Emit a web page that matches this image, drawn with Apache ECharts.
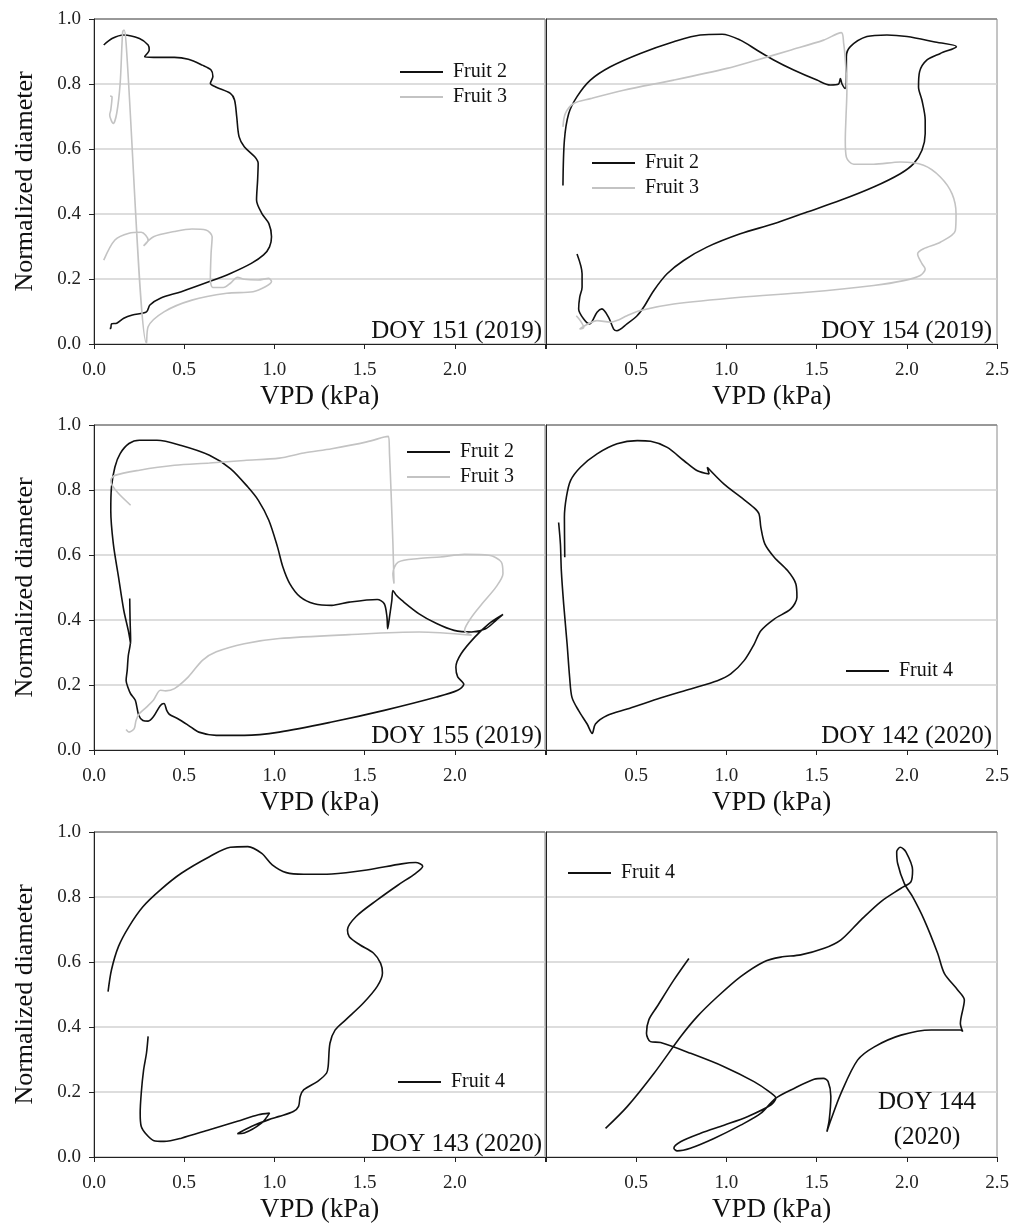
<!DOCTYPE html>
<html>
<head>
<meta charset="utf-8">
<script src="https://cdn.jsdelivr.net/npm/echarts@6.0.0/dist/echarts.min.js"></script>
<style>
  html, body { margin: 0; padding: 0; background: #fff; }
  #chart { width: 1014px; height: 1227px; }
</style>
</head>
<body>
<div id="chart"></div>
<script>
// [VPD (kPa), normalized diameter]
const doy151Fruit2 = [[0.054,0.92],[0.10,0.94],[0.165,0.951],[0.252,0.94],[0.30,0.92],[0.306,0.905],[0.281,0.884],[0.33,0.882],[0.446,0.882],[0.523,0.876],[0.60,0.858],[0.649,0.843],[0.659,0.823],[0.645,0.802],[0.678,0.79],[0.756,0.771],[0.779,0.751],[0.791,0.70],[0.804,0.638],[0.833,0.607],[0.891,0.576],[0.91,0.556],[0.907,0.505],[0.901,0.443],[0.93,0.402],[0.969,0.371],[0.984,0.330],[0.973,0.299],[0.940,0.274],[0.872,0.248],[0.756,0.217],[0.640,0.192],[0.484,0.161],[0.368,0.141],[0.310,0.12],[0.291,0.099],[0.213,0.089],[0.165,0.079],[0.126,0.064],[0.097,0.062],[0.093,0.048],[0.087,0.048]];
const doy151Fruit3 = [[0.054,0.258],[0.116,0.32],[0.194,0.341],[0.262,0.344],[0.30,0.32],[0.275,0.302],[0.33,0.33],[0.446,0.346],[0.543,0.354],[0.62,0.351],[0.655,0.33],[0.649,0.279],[0.645,0.197],[0.659,0.174],[0.717,0.174],[0.756,0.187],[0.795,0.205],[0.833,0.199],[0.91,0.197],[0.969,0.202],[0.984,0.192],[0.95,0.176],[0.882,0.161],[0.736,0.156],[0.543,0.135],[0.388,0.099],[0.30,0.053],[0.291,0.002],[0.178,0.925],[0.167,0.966],[0.159,0.961],[0.145,0.802],[0.126,0.71],[0.107,0.679],[0.087,0.705],[0.093,0.72],[0.10,0.761],[0.089,0.763]];

const doy154Fruit2 = [[0.094,0.488],[0.102,0.627],[0.126,0.709],[0.172,0.761],[0.246,0.812],[0.357,0.853],[0.523,0.894],[0.708,0.930],[0.855,0.951],[0.976,0.953],[1.077,0.935],[1.17,0.904],[1.262,0.874],[1.373,0.843],[1.502,0.812],[1.576,0.797],[1.622,0.80],[1.632,0.817],[1.641,0.80],[1.659,0.786],[1.665,0.822],[1.665,0.884],[1.687,0.915],[1.779,0.946],[1.89,0.951],[2.001,0.946],[2.149,0.930],[2.275,0.915],[2.186,0.894],[2.112,0.874],[2.071,0.838],[2.065,0.791],[2.084,0.750],[2.102,0.689],[2.102,0.647],[2.084,0.596],[2.038,0.555],[1.964,0.524],[1.816,0.483],[1.632,0.442],[1.447,0.406],[1.262,0.370],[1.077,0.339],[0.892,0.298],[0.763,0.257],[0.671,0.216],[0.597,0.164],[0.541,0.113],[0.505,0.087],[0.449,0.062],[0.393,0.041],[0.375,0.046],[0.347,0.082],[0.31,0.108],[0.283,0.098],[0.242,0.062],[0.209,0.077],[0.181,0.108],[0.187,0.144],[0.2,0.175],[0.2,0.216],[0.172,0.277]];
const doy154Fruit3 = [[0.094,0.668],[0.107,0.709],[0.153,0.740],[0.246,0.755],[0.43,0.781],[0.708,0.812],[1.003,0.848],[1.17,0.874],[1.354,0.904],[1.539,0.935],[1.637,0.958],[1.65,0.925],[1.659,0.874],[1.668,0.781],[1.663,0.699],[1.659,0.627],[1.665,0.575],[1.706,0.553],[1.816,0.553],[1.964,0.560],[2.093,0.550],[2.186,0.514],[2.251,0.462],[2.273,0.401],[2.269,0.349],[2.186,0.313],[2.093,0.293],[2.06,0.277],[2.084,0.247],[2.102,0.231],[2.075,0.211],[1.983,0.195],[1.816,0.180],[1.447,0.159],[1.077,0.144],[0.708,0.123],[0.523,0.103],[0.449,0.087],[0.393,0.072],[0.357,0.067],[0.283,0.072],[0.227,0.060],[0.186,0.046],[0.209,0.051],[0.19,0.072],[0.168,0.087]];

const doy155Fruit2 = [[0.198,0.466],[0.200,0.40],[0.203,0.337],[0.19,0.29],[0.184,0.245],[0.178,0.214],[0.19,0.19],[0.203,0.173],[0.229,0.153],[0.248,0.107],[0.271,0.091],[0.30,0.089],[0.329,0.102],[0.368,0.137],[0.388,0.143],[0.403,0.122],[0.417,0.11],[0.465,0.096],[0.523,0.076],[0.581,0.055],[0.678,0.045],[0.833,0.045],[1.027,0.055],[1.318,0.086],[1.609,0.122],[1.899,0.163],[2.016,0.184],[2.05,0.202],[2.016,0.225],[2.006,0.255],[2.035,0.296],[2.112,0.348],[2.19,0.389],[2.267,0.417],[2.229,0.399],[2.171,0.373],[2.093,0.363],[1.996,0.368],[1.899,0.389],[1.802,0.419],[1.705,0.461],[1.676,0.476],[1.657,0.491],[1.651,0.46],[1.638,0.409],[1.628,0.373],[1.624,0.409],[1.609,0.45],[1.57,0.463],[1.415,0.455],[1.318,0.445],[1.221,0.45],[1.143,0.471],[1.085,0.512],[1.047,0.563],[1.017,0.625],[0.969,0.707],[0.911,0.768],[0.853,0.809],[0.756,0.866],[0.64,0.907],[0.484,0.937],[0.349,0.953],[0.252,0.953],[0.194,0.943],[0.145,0.912],[0.116,0.871],[0.097,0.809],[0.093,0.737],[0.107,0.635],[0.136,0.532],[0.165,0.43],[0.19,0.368],[0.203,0.327]];
const doy155Fruit3 = [[0.203,0.753],[0.136,0.789],[0.101,0.814],[0.093,0.830],[0.116,0.845],[0.252,0.861],[0.446,0.876],[0.64,0.883],[0.833,0.891],[1.027,0.898],[1.163,0.914],[1.318,0.927],[1.512,0.948],[1.609,0.963],[1.632,0.965],[1.638,0.912],[1.647,0.789],[1.657,0.635],[1.663,0.512],[1.657,0.543],[1.686,0.578],[1.802,0.589],[1.919,0.594],[2.054,0.602],[2.19,0.599],[2.258,0.578],[2.267,0.543],[2.229,0.502],[2.151,0.45],[2.093,0.409],[2.054,0.368],[2.093,0.353],[1.802,0.363],[1.415,0.355],[1.027,0.343],[0.833,0.327],[0.678,0.302],[0.601,0.276],[0.523,0.225],[0.446,0.189],[0.397,0.182],[0.368,0.184],[0.329,0.153],[0.291,0.132],[0.252,0.112],[0.233,0.091],[0.223,0.066],[0.194,0.055],[0.178,0.063]];

const doy142Fruit4 = [[0.070,0.70],[0.080,0.633],[0.085,0.552],[0.098,0.449],[0.117,0.326],[0.131,0.224],[0.144,0.162],[0.181,0.121],[0.228,0.08],[0.256,0.051],[0.274,0.08],[0.339,0.106],[0.45,0.126],[0.617,0.157],[0.802,0.188],[0.95,0.213],[1.024,0.234],[1.098,0.275],[1.154,0.326],[1.191,0.367],[1.265,0.403],[1.357,0.434],[1.391,0.47],[1.385,0.511],[1.339,0.552],[1.265,0.593],[1.213,0.634],[1.191,0.685],[1.181,0.726],[1.154,0.745],[1.080,0.778],[0.987,0.818],[0.894,0.87],[0.904,0.849],[0.839,0.859],[0.765,0.89],[0.672,0.931],[0.58,0.95],[0.506,0.952],[0.394,0.942],[0.283,0.911],[0.191,0.87],[0.136,0.829],[0.113,0.778],[0.102,0.716],[0.104,0.593]];

const doy143Fruit4 = [[0.078,0.509],[0.097,0.576],[0.136,0.648],[0.194,0.709],[0.271,0.770],[0.368,0.822],[0.484,0.873],[0.64,0.924],[0.756,0.953],[0.853,0.955],[0.93,0.934],[0.988,0.899],[1.066,0.875],[1.163,0.870],[1.318,0.871],[1.512,0.883],[1.705,0.902],[1.783,0.906],[1.822,0.895],[1.783,0.873],[1.686,0.837],[1.57,0.791],[1.453,0.740],[1.405,0.699],[1.415,0.678],[1.473,0.653],[1.55,0.627],[1.589,0.596],[1.599,0.566],[1.57,0.525],[1.492,0.473],[1.395,0.422],[1.337,0.391],[1.308,0.35],[1.298,0.279],[1.289,0.258],[1.24,0.233],[1.163,0.207],[1.143,0.186],[1.134,0.156],[1.105,0.14],[1.027,0.125],[0.969,0.115],[0.872,0.094],[0.795,0.072],[0.833,0.074],[0.93,0.105],[0.973,0.135],[0.911,0.13],[0.795,0.11],[0.64,0.084],[0.484,0.058],[0.388,0.048],[0.329,0.051],[0.291,0.069],[0.262,0.094],[0.256,0.135],[0.262,0.197],[0.275,0.268],[0.291,0.32],[0.3,0.371]];

const doy144Fruit4 = [[0.792,0.611],[0.709,0.545],[0.616,0.463],[0.570,0.422],[0.557,0.381],[0.579,0.355],[0.635,0.352],[0.802,0.319],[0.987,0.278],[1.153,0.232],[1.237,0.201],[1.274,0.181],[1.246,0.160],[1.116,0.124],[0.987,0.098],[0.857,0.073],[0.746,0.047],[0.709,0.027],[0.727,0.019],[0.8,0.027],[0.931,0.057],[1.079,0.098],[1.19,0.134],[1.274,0.181],[1.375,0.211],[1.486,0.239],[1.538,0.242],[1.564,0.232],[1.579,0.186],[1.570,0.114],[1.557,0.078],[1.579,0.114],[1.635,0.196],[1.727,0.298],[1.82,0.339],[1.968,0.375],[2.135,0.391],[2.297,0.391],[2.31,0.386],[2.297,0.411],[2.319,0.483],[2.282,0.514],[2.208,0.565],[2.171,0.627],[2.097,0.729],[2.032,0.801],[1.986,0.842],[1.949,0.904],[1.944,0.939],[1.964,0.953],[1.995,0.939],[2.032,0.883],[2.023,0.847],[1.968,0.827],[1.857,0.786],[1.745,0.729],[1.635,0.668],[1.542,0.642],[1.412,0.622],[1.301,0.615],[1.209,0.601],[1.079,0.555],[0.95,0.493],[0.838,0.432],[0.746,0.370],[0.598,0.257],[0.45,0.155],[0.33,0.088]];

const doyLabels = ['DOY 151 (2019)', 'DOY 154 (2019)', 'DOY 155 (2019)', 'DOY 142 (2020)', 'DOY 143 (2020)', 'DOY 144\n(2020)'];
const xTickLabels = ['0.0', '0.5', '1.0', '1.5', '2.0', '2.5'];
const yTickLabels = ['0.0', '0.2', '0.4', '0.6', '0.8', '1.0'];

let serif = '"Liberation Serif", "DejaVu Serif", serif';
let black = '#111111';
let grey = '#c3c3c3';

let panels = [
  { lines: [['Fruit 2', doy151Fruit2, black], ['Fruit 3', doy151Fruit3, grey]], legend: [400, 62], title: { right: 472, top: 314 } },
  { lines: [['Fruit 2', doy154Fruit2, black], ['Fruit 3', doy154Fruit3, grey]], legend: [592, 153], title: { right: 22, top: 314 } },
  { lines: [['Fruit 2', doy155Fruit2, black], ['Fruit 3', doy155Fruit3, grey]], legend: [407, 442], title: { right: 472, top: 719 } },
  { lines: [['Fruit 4', doy142Fruit4, black]], legend: [846, 661], title: { right: 22, top: 719 } },
  { lines: [['Fruit 4', doy143Fruit4, black]], legend: [398, 1072], title: { right: 472, top: 1127 } },
  { lines: [['Fruit 4', doy144Fruit4, black]], legend: [568, 863], title: { left: 927, top: 1085, textAlign: 'center' } }
];
let colLeft = [94, 546];
let rowTop = [19, 425, 832];

let grids = [], xAxes = [], yAxes = [], series = [], legends = [], titles = [];
panels.forEach((p, i) => {
  let col = i % 2, row = Math.floor(i / 2);
  grids.push({ left: colLeft[col], top: rowTop[row], width: 451, height: 325, show: true,
    borderColor: '#8a8a8a', borderWidth: 1, backgroundColor: 'transparent' });
  xAxes.push({
    type: 'value', gridIndex: i, min: 0, max: 2.5, interval: 0.5,
    name: 'VPD (kPa)', nameLocation: 'middle', nameGap: 39,
    nameTextStyle: { fontFamily: serif, fontSize: 27, color: '#111' },
    axisLine: { show: true, lineStyle: { color: '#222', width: 1 } },
    axisTick: { show: true, length: 5, lineStyle: { color: '#222' } },
    axisLabel: { fontFamily: serif, fontSize: 19, color: '#222', margin: 17,
      formatter: v => {
        let k = Math.round(v / 0.5);
        if (col === 0 && k === 5) return '';
        if (col === 1 && k === 0) return '';
        return xTickLabels[k];
      } },
    splitLine: { show: false }
  });
  yAxes.push({
    type: 'value', gridIndex: i, min: 0, max: 1, interval: 0.2,
    name: col === 0 ? 'Normalized diameter' : '', nameLocation: 'middle', nameGap: 56,
    nameTextStyle: { fontFamily: serif, fontSize: 26, color: '#111' },
    axisLine: { show: true, lineStyle: { color: '#222', width: 1 } },
    axisTick: { show: col === 0, length: 5, lineStyle: { color: '#222' } },
    axisLabel: { show: col === 0, fontFamily: serif, fontSize: 19, color: '#222', margin: 13,
      formatter: v => yTickLabels[Math.round(v / 0.2)] },
    splitLine: { show: true, lineStyle: { width: 1.5,
      color: ['#d2d2d2', '#d2d2d2', '#d2d2d2', '#d2d2d2', '#d2d2d2', '#8a8a8a'] } }
  });
  p.lines.forEach(l => {
    series.push({
      name: l[0], type: 'line', xAxisIndex: i, yAxisIndex: i,
      data: l[1], symbol: 'none', smooth: 0.3, animation: false,
      lineStyle: { color: l[2], width: 1.6 }, itemStyle: { color: l[2] }
    });
  });
  legends.push({
    left: p.legend[0], top: p.legend[1], orient: 'vertical', padding: 0,
    icon: 'rect', itemWidth: 43, itemHeight: 2, itemGap: 5, selectedMode: false,
    data: p.lines.map(l => l[0]),
    textStyle: { fontFamily: serif, fontSize: 20, color: '#111', padding: [0, 0, 0, 5] }
  });
  titles.push(Object.assign({
    text: doyLabels[i], padding: 0,
    textStyle: { fontFamily: serif, fontSize: 25, fontWeight: 'normal', color: '#111', lineHeight: 35 }
  }, p.title));
});

let chart = echarts.init(document.getElementById('chart'), null, { renderer: 'canvas' });
chart.setOption({
  backgroundColor: '#fff',
  animation: false,
  title: titles,
  legend: legends,
  grid: grids,
  xAxis: xAxes,
  yAxis: yAxes,
  series: series
});
</script>
</body>
</html>
